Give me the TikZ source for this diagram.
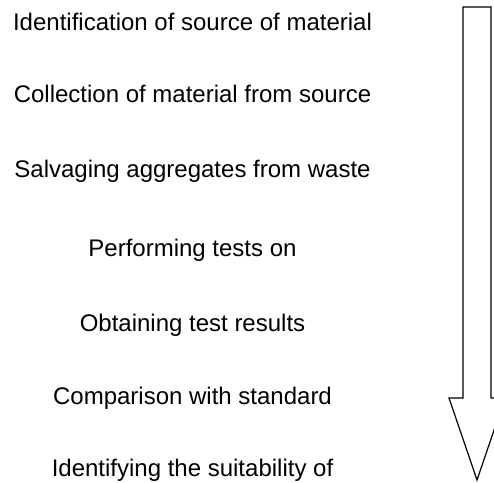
\documentclass[tikz,border=0pt]{standalone}
\usepackage{fontspec}
\setmainfont{Liberation Sans}
\begin{document}
\begin{tikzpicture}[x=1pt,y=-1pt,line width=1.2pt,
    every node/.style={anchor=base,inner sep=0pt,font=\fontsize{24}{28}\selectfont}]
      \useasboundingbox (0,0) rectangle (494,482);
      \clip (0,0) rectangle (494,482);
      \draw
        (192.5,30.7) node (0){Identification of source of material}
        (192.5,102.3) node (1){Collection of material from source}
        (192.5,177.7) node (2){Salvaging aggregates from waste}
        (192.5,256.7) node (3){Performing tests on}
        (192.5,331.7) node (4){Obtaining test results}
        (192.5,404.3) node (5){Comparison with standard}
        (192.5,476) node (6){Identifying the suitability of};
      \draw (463,7) -- (491,7) -- (491,398) -- (505,398) -- (477,480)
        -- (449,398) -- (463,398) -- cycle;
    \end{tikzpicture}
\end{document}
